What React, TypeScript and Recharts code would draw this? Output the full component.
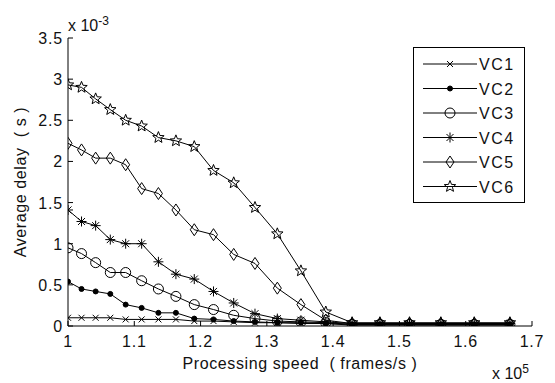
import React from 'react';
import { LineChart, Line, XAxis, YAxis, Legend } from 'recharts';

// x in units of 1e5 frames/s, delays in units of 1e-3 s
const speed = [1.0, 1.0204, 1.0417, 1.0638, 1.087, 1.1111, 1.1364, 1.1628, 1.1905, 1.2195, 1.25, 1.2821, 1.3158, 1.3514, 1.3889, 1.4286, 1.4706, 1.5152, 1.5625, 1.6129, 1.6667];

const vc1 = [0.10, 0.10, 0.10, 0.10, 0.08, 0.08, 0.08, 0.08, 0.06, 0.06, 0.05, 0.04, 0.04, 0.03, 0.03, 0.01, 0.01, 0.01, 0.01, 0.01, 0.01];
const vc2 = [0.54, 0.45, 0.42, 0.39, 0.26, 0.22, 0.16, 0.16, 0.09, 0.08, 0.06, 0.05, 0.04, 0.04, 0.03, 0.02, 0.02, 0.02, 0.02, 0.02, 0.02];
const vc3 = [0.95, 0.88, 0.77, 0.65, 0.65, 0.55, 0.45, 0.36, 0.26, 0.2, 0.13, 0.09, 0.06, 0.05, 0.04, 0.02, 0.02, 0.02, 0.02, 0.02, 0.02];
const vc4 = [1.41, 1.27, 1.22, 1.05, 1.0, 1.0, 0.78, 0.63, 0.57, 0.42, 0.28, 0.15, 0.09, 0.07, 0.05, 0.03, 0.03, 0.03, 0.03, 0.03, 0.03];
const vc5 = [2.22, 2.14, 2.04, 2.04, 1.96, 1.67, 1.61, 1.41, 1.17, 1.11, 0.87, 0.76, 0.46, 0.26, 0.07, 0.03, 0.03, 0.03, 0.03, 0.03, 0.03];
const vc6 = [2.93, 2.9, 2.76, 2.63, 2.5, 2.43, 2.29, 2.25, 2.18, 1.89, 1.74, 1.44, 1.12, 0.67, 0.17, 0.04, 0.04, 0.04, 0.04, 0.04, 0.04];

const xTicks = [1, 1.1, 1.2, 1.3, 1.4, 1.5, 1.6, 1.7];
const yTicks = [0, 0.5, 1, 1.5, 2, 2.5, 3, 3.5];

const series = [
  { key: 'VC1', values: vc1, shape: 'x' },
  { key: 'VC2', values: vc2, shape: 'dot' },
  { key: 'VC3', values: vc3, shape: 'circle' },
  { key: 'VC4', values: vc4, shape: 'asterisk' },
  { key: 'VC5', values: vc5, shape: 'diamond' },
  { key: 'VC6', values: vc6, shape: 'star' },
];

const data = speed.map((s, i) => {
  const row: Record<string, number> = { speed: s };
  series.forEach(ser => { row[ser.key] = ser.values[i]; });
  return row;
});

const FONT = '"Liberation Sans", Arial, sans-serif';
const INK = '#000';
const TEXT = '#111';

function starPoints(cx: number, cy: number, ro: number, ri: number) {
  const pts: string[] = [];
  for (let k = 0; k < 10; k++) {
    const r = k % 2 === 0 ? ro : ri;
    const a = -Math.PI / 2 + (k * Math.PI) / 5;
    pts.push(`${cx + r * Math.cos(a)},${cy + r * Math.sin(a)}`);
  }
  return pts.join(' ');
}

function Marker({ cx, cy, shape }: { cx: number; cy: number; shape: string }) {
  if (cx == null || cy == null) return <g />;
  const s = { stroke: INK, strokeWidth: 1, fill: 'none' };
  switch (shape) {
    case 'x':
      return (
        <g {...s}>
          <line x1={cx - 3} y1={cy - 3} x2={cx + 3} y2={cy + 3} />
          <line x1={cx - 3} y1={cy + 3} x2={cx + 3} y2={cy - 3} />
        </g>
      );
    case 'dot':
      return <circle cx={cx} cy={cy} r={2.5} fill={INK} stroke={INK} />;
    case 'circle':
      return <circle cx={cx} cy={cy} r={5} {...s} />;
    case 'asterisk':
      return (
        <g {...s}>
          <line x1={cx - 5} y1={cy} x2={cx + 5} y2={cy} />
          <line x1={cx} y1={cy - 5} x2={cx} y2={cy + 5} />
          <line x1={cx - 3.5} y1={cy - 3.5} x2={cx + 3.5} y2={cy + 3.5} />
          <line x1={cx - 3.5} y1={cy + 3.5} x2={cx + 3.5} y2={cy - 3.5} />
        </g>
      );
    case 'diamond':
      return <polygon points={`${cx},${cy - 6} ${cx + 4},${cy} ${cx},${cy + 6} ${cx - 4},${cy}`} {...s} />;
    case 'star':
      return <polygon points={starPoints(cx, cy, 6, 2.6)} {...s} />;
    default:
      return <g />;
  }
}

function BottomTick(props: any) {
  const { x, y, payload } = props;
  return (
    <g>
      <line x1={x} y1={y} x2={x} y2={y - 5} stroke={INK} />
      <text x={x} y={y + 21} textAnchor="middle" fontSize={16} fontFamily={FONT} fill={TEXT} letterSpacing={0.8}>
        {String(payload.value)}
      </text>
    </g>
  );
}

function LeftTick(props: any) {
  const { x, y, payload } = props;
  return (
    <g>
      <line x1={x} y1={y} x2={x + 5} y2={y} stroke={INK} />
      <text x={x - 5} y={y + 6} textAnchor="end" fontSize={16} fontFamily={FONT} fill={TEXT} letterSpacing={0.8}>
        {String(payload.value)}
      </text>
    </g>
  );
}

function LegendBox() {
  return (
    <svg width={112} height={156} style={{ display: 'block' }}>
      <rect x={0.5} y={0.5} width={111} height={155} fill="#fff" stroke={INK} />
      {series.map((ser, i) => {
        const cy = 17 + i * 24.5;
        return (
          <g key={ser.key}>
            <line x1={10} y1={cy} x2={64} y2={cy} stroke={INK} />
            <Marker cx={37} cy={cy} shape={ser.shape} />
            <text x={66} y={cy + 6} fontSize={16} fontFamily={FONT} fill={TEXT} letterSpacing={1.5}>{ser.key}</text>
          </g>
        );
      })}
    </svg>
  );
}

const noLabel = () => '';

export default function App() {
  return (
    <div style={{ position: 'absolute', left: 0, top: 0, width: 555, height: 383, background: '#fff', fontFamily: FONT }}>
      <LineChart width={555} height={383} data={data} margin={{ top: 38, right: 23, bottom: 0, left: 0 }}>
        <XAxis
          dataKey="speed"
          type="number"
          domain={[1, 1.7]}
          ticks={xTicks}
          height={57}
          tickSize={0}
          tickMargin={0}
          tickLine={false}
          axisLine={{ stroke: INK }}
          tick={<BottomTick />}
          allowDataOverflow
          label={{ value: 'Processing speed\u00A0\u00A0( frames/s )', position: 'insideBottom', offset: 14, fill: TEXT, fontSize: 16, fontFamily: FONT, letterSpacing: 0.6 }}
        />
        <XAxis
          xAxisId="top"
          orientation="top"
          type="number"
          domain={[1, 1.7]}
          ticks={xTicks}
          height={0}
          mirror
          tickSize={5}
          tickFormatter={noLabel}
          tickLine={{ stroke: INK }}
          axisLine={{ stroke: INK }}
        />
        <YAxis
          type="number"
          domain={[0, 3.5]}
          ticks={yTicks}
          width={68}
          tickSize={0}
          tickMargin={0}
          tickLine={false}
          axisLine={{ stroke: INK }}
          tick={<LeftTick />}
          allowDataOverflow
          label={{ value: 'Average delay\u00A0\u00A0( s )', angle: -90, position: 'insideLeft', offset: 20, fill: TEXT, fontSize: 16, fontFamily: FONT, letterSpacing: 0.6, style: { textAnchor: 'middle' } }}
        />
        <YAxis
          yAxisId="right"
          orientation="right"
          type="number"
          domain={[0, 3.5]}
          ticks={yTicks}
          width={0}
          mirror
          tickSize={5}
          tickFormatter={noLabel}
          tickLine={{ stroke: INK }}
          axisLine={{ stroke: INK }}
        />
        <Legend
          layout="vertical"
          align="center"
          verticalAlign="middle"
          content={() => <LegendBox />}
          wrapperStyle={{ position: 'absolute', left: 413, top: 47, width: 112, height: 156 }}
        />
        {series.map(ser => (
          <Line
            key={ser.key}
            type="linear"
            dataKey={ser.key}
            stroke={INK}
            strokeWidth={1}
            isAnimationActive={false}
            dot={(p: any) => <Marker key={`${ser.key}-${p.index}`} cx={p.cx} cy={p.cy} shape={ser.shape} />}
            activeDot={false}
          />
        ))}
      </LineChart>
      <div style={{ position: 'absolute', left: 68, top: 14, fontSize: 16, color: TEXT, whiteSpace: 'nowrap' }}>
        x 10<sup style={{ fontSize: 12 }}>-3</sup>
      </div>
      <div style={{ position: 'absolute', left: 492, top: 362, fontSize: 16, color: TEXT, whiteSpace: 'nowrap' }}>
        x 10<sup style={{ fontSize: 12 }}>5</sup>
      </div>
    </div>
  );
}
